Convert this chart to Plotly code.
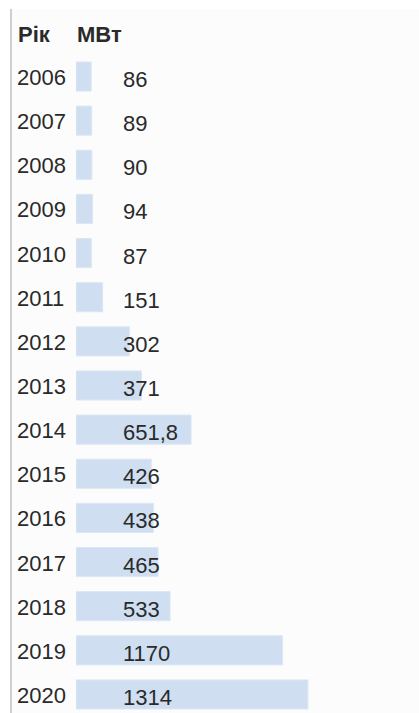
import plotly.graph_objects as go

years = ["2006", "2007", "2008", "2009", "2010", "2011", "2012", "2013",
         "2014", "2015", "2016", "2017", "2018", "2019", "2020"]
mw = [86, 89, 90, 94, 87, 151, 302, 371, 651.8, 426, 438, 465, 533, 1170, 1314]
mw_labels = ["86", "89", "90", "94", "87", "151", "302", "371", "651,8",
             "426", "438", "465", "533", "1170", "1314"]
headers = ["Рік", "МВт"]

W, H = 419, 713
font = "Arial, Liberation Sans, sans-serif"
txt = "#2a2a2a"
fs = 22

fig = go.Figure()
fig.add_trace(go.Bar(
    x=mw, y=list(range(len(years))), orientation="h", width=0.66,
    marker=dict(color="#cfdff1", line=dict(color="#dbe7f5", width=1)),
    hoverinfo="skip",
))

ann = []
ann.append(dict(text="<b>%s</b>" % headers[0], xref="paper", yref="paper",
                x=16 / W, y=1 - 34 / H, xanchor="left", yanchor="middle",
                showarrow=False, font=dict(size=fs, color=txt, family=font)))
ann.append(dict(text="<b>%s</b>" % headers[1], xref="paper", yref="paper",
                x=75 / W, y=1 - 34 / H, xanchor="left", yanchor="middle",
                showarrow=False, font=dict(size=fs, color=txt, family=font)))
for i, (yr, lab) in enumerate(zip(years, mw_labels)):
    ann.append(dict(text=yr, xref="paper", yref="y", x=15 / W, y=i,
                    xanchor="left", yanchor="middle", showarrow=False, yshift=-1,
                    font=dict(size=fs, color=txt, family=font)))
    ann.append(dict(text=lab, xref="paper", yref="y", x=121 / W, y=i,
                    xanchor="left", yanchor="middle", showarrow=False, yshift=-3,
                    font=dict(size=fs, color=txt, family=font)))

fig.update_layout(
    width=W, height=H,
    margin=dict(l=0, r=0, t=0, b=0),
    paper_bgcolor="white", plot_bgcolor="rgba(0,0,0,0)",
    showlegend=False,
    annotations=ann,
    xaxis=dict(domain=[76 / W, 1], range=[0, 343 / 0.1765], visible=False, fixedrange=True),
    yaxis=dict(range=[(H - 76.5) / 44.14, -76.5 / 44.14],
               visible=False, fixedrange=True),
    shapes=[
        dict(type="rect", xref="paper", yref="paper", x0=11 / W, x1=1,
             y0=0, y1=1 - 9 / H, fillcolor="#fcfcfc", line=dict(width=0), layer="below"),
        dict(type="line", xref="paper", yref="paper", x0=11 / W, x1=11 / W,
             y0=0, y1=1 - 9 / H, line=dict(color="#cfcfcf", width=2), layer="below"),
    ],
)

fig.write_html("out.html", config={"displayModeBar": False},
               post_script="document.body.style.margin='0';document.body.style.overflow='hidden';")
